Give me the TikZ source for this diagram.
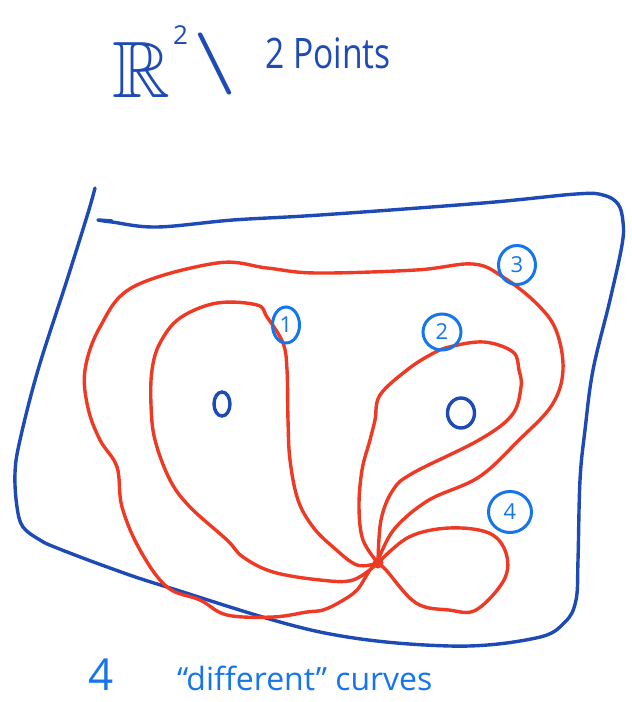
\documentclass[tikz,border=0pt]{standalone}
\usepackage{amssymb}
\usepackage{fontspec}
\setmainfont{Open Sans}
\usetikzlibrary{shapes.geometric}
\definecolor{blueD}{RGB}{29,74,180}
\definecolor{blueL}{RGB}{22,117,235}
\definecolor{redC}{RGB}{238,58,36}
\tikzset{
  frame/.style={draw=blueD, line width=3.4pt, line cap=round, line join=round},
  curve/.style={draw=redC, line width=3.4pt, line cap=round, line join=round},
  tag/.style={draw=blueL, line width=3pt, ellipse, inner sep=0pt, text=blueL, font=\fontsize{22}{24}\selectfont},
  pt/.style={draw=blueD, line width=3.4pt, ellipse, inner sep=0pt},
}
\begin{document}
\begin{tikzpicture}[x=1pt,y=-1pt]
\useasboundingbox (0,0) rectangle (632,702);
% title
\node[anchor=base west, text=blueD, inner sep=0pt] (R) at (112,97) {\fontsize{80}{84}\selectfont$\mathbb{R}$};
\node[anchor=base west, text=blueD, inner sep=0pt] (sq) at (173,44) {\fontsize{26}{28}\selectfont 2};
\node[text=blueD, inner sep=0pt] (minus) at (215,64) {\scalebox{7.5}[6.2]{\boldmath$\setminus$}};
\node[anchor=base west, text=blueD, inner sep=0pt] (pts) at (265,68) {\scalebox{0.8}[1]{\fontsize{42}{44}\selectfont 2 Points}};
% frame
\coordinate (F0) at (95,188);
\draw[frame] plot[smooth, tension=0.6] coordinates {(F0) (88,213) (67,280) (38,370) (20,440) (15,473) (17,507) (23,527) (40,540) (57,548) (110,568) (167,587) (320,632) (450,646) (536,638) (565,622) (576,600) (578,560) (580,480) (585,430) (593,370) (610,300) (622,245) (623,222) (618,204) (603,195) (576,194) (483,203) (320,215) (233,220) (157,227) (112,222) (98,220) (112,221)};
% curves
\coordinate (B) at (378,563);
\draw[curve] plot[smooth, tension=0.6] coordinates {(B) (357,565) (333,547) (313,527) (298,500) (290,460) (288,420) (287,370) (283,343) (267,317) (257,305) (217,303) (180,318) (160,343) (152,370) (151,405) (155,440) (170,480) (190,507) (227,540) (243,557) (273,572) (320,580) (353,580) (B)};
\draw[curve] plot[smooth, tension=0.6] coordinates {(B) (370,570) (357,590) (340,602) (323,610) (307,612) (273,617) (227,615) (200,600) (167,587) (140,550) (122,507) (117,467) (100,440) (88,408) (85,370) (100,327) (133,287) (217,263) (267,268) (316,273) (416,270) (473,264) (503,277) (536,303) (556,330) (563,370) (552,405) (519,440) (479,477) (429,500) (396,527) (381,553) (B)};
\draw[curve] plot[smooth, tension=0.6] coordinates {(B) (363,540) (359,507) (362,470) (370,440) (375,420) (380,395) (407,370) (430,355) (449,347) (484,342) (513,352) (519,370) (521,387) (512,415) (479,440) (413,473) (393,490) (381,520) (B)};
\draw[curve] plot[smooth, tension=0.6] coordinates {(B) (409,537) (449,528) (489,533) (506,553) (504,580) (476,610) (449,610) (416,603) (386,570) (B)};
\fill[redC] (B) circle (5.5pt);
% points
\node[pt, minimum width=16pt, minimum height=24pt] (p1) at (222,404) {};
\node[pt, minimum width=27pt, minimum height=30pt] (p2) at (461,413) {};
% tags
\node[tag, minimum width=27pt, minimum height=36pt] (t1) at (286,325) {1};
\node[tag, minimum width=38pt, minimum height=36pt] (t2) at (442,332) {2};
\node[tag, minimum width=37pt, minimum height=39pt] (t3) at (517,265) {3};
\node[tag, minimum width=43pt, minimum height=41pt] (t4) at (510,512) {4};
% bottom text
\node[anchor=base west, text=blueL, inner sep=0pt] (four) at (88,690) {\fontsize{44}{46}\selectfont 4};
\node[anchor=base west, text=blueL, inner sep=0pt] (cap) at (177,690) {\fontsize{32}{34}\selectfont “different” curves};
\end{tikzpicture}
\end{document}
